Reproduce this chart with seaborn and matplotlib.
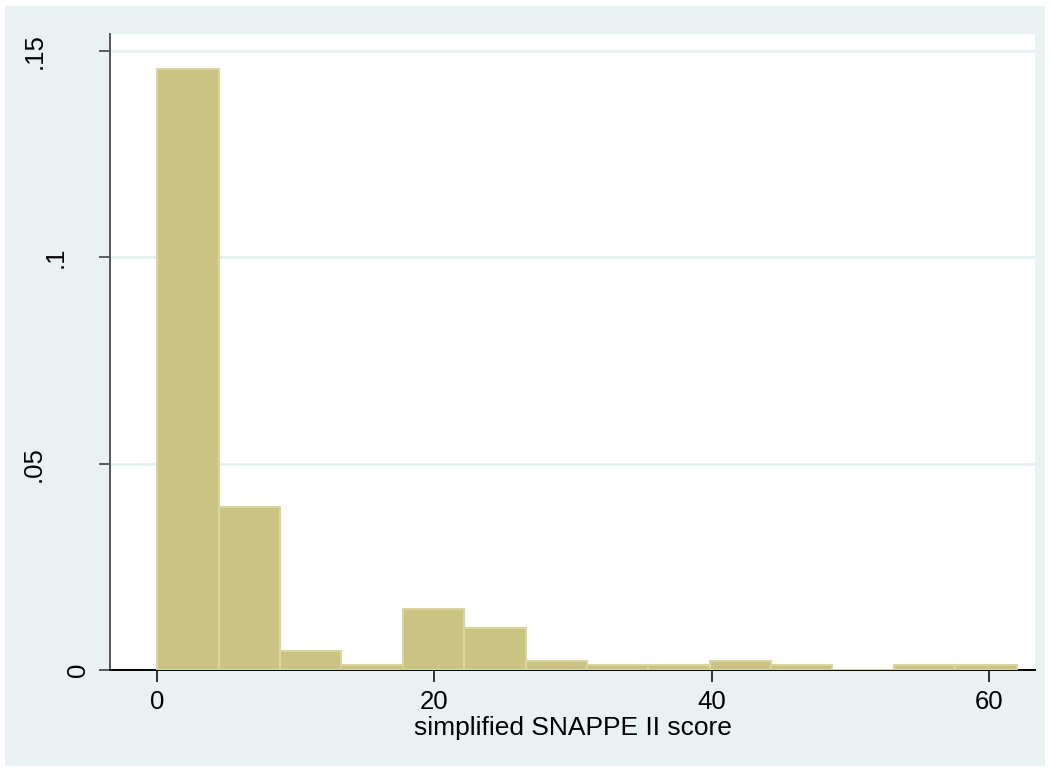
import numpy as np
import pandas as pd
import matplotlib
matplotlib.use("Agg")
import matplotlib.pyplot as plt
import seaborn as sns
from matplotlib.patches import Rectangle

# histogram of the simplified SNAPPE II score (14 equal bins, 0 to 62)
score_min = 0
score_max = 62
n_bins = 14
bin_counts = [129, 35, 4, 1, 13, 9, 2, 1, 1, 2, 1, 0, 1, 1]

x_ticks = [0, 20, 40, 60]
y_ticks = [0, 0.05, 0.1, 0.15]
y_tick_labels = ["0", ".05", ".1", ".15"]
x_label = "simplified SNAPPE II score"

BG = "#EAF1F3"
GRID = "#E5EEF0"
BAR = "#CAC381"
BAR_EDGE = "#DAD5A0"

sns.set_theme(style="white")
plt.rcParams["font.family"] = ["Liberation Sans", "DejaVu Sans"]
plt.rcParams["text.color"] = "black"
plt.rcParams["xtick.color"] = "black"
plt.rcParams["ytick.color"] = "black"

edges = np.linspace(score_min, score_max, n_bins + 1)
df = pd.DataFrame({
    "score": (edges[:-1] + edges[1:]) / 2,
    "n": bin_counts,
})

fig = plt.figure(figsize=(10.5, 7.72), dpi=100)
fig.patch.set_facecolor("white")
fig.add_artist(Rectangle((5 / 1050, 6 / 772), 1040 / 1050, 760 / 772,
                         transform=fig.transFigure, facecolor=BG,
                         edgecolor="none", zorder=0))

ax = fig.add_axes([110 / 1050, 102 / 772, 925 / 1050, 636 / 772])
ax.set_facecolor("white")

sns.histplot(data=df, x="score", weights="n", bins=n_bins,
             binrange=(score_min, score_max), stat="density",
             color=BAR, edgecolor=BAR_EDGE, linewidth=1.5, alpha=1,
             ax=ax, zorder=3)

ax.set_xlim(-3.41, 63.33)
ax.set_ylim(0, 0.1541)

# horizontal grid
for yv in y_ticks[1:]:
    ax.axhline(yv, color=GRID, lw=1.8, zorder=1)

ax.set_xticks(x_ticks)
ax.set_xticklabels([str(v) for v in x_ticks], fontsize=18.5, color="black")
ax.set_yticks(y_ticks)
ax.set_yticklabels([])
ax.tick_params(axis="x", bottom=True, direction="out", length=8.5,
               width=1.1, color="black", pad=6)
ax.tick_params(axis="y", left=True, direction="out", length=8,
               width=1.1, color="#333333", pad=0)

# Stata-style rotated y labels (staggered by label width)
label_x = {"0": -0.0346, ".05": -0.0822, ".1": -0.0584, ".15": -0.081}
for yv, lab in zip(y_ticks, y_tick_labels):
    ax.text(label_x[lab], yv, lab, transform=ax.get_yaxis_transform(),
            rotation=90, ha="center", va="center", fontsize=18.5,
            color="black")

ax.set_xlabel(x_label, fontsize=19, labelpad=1, color="black")
ax.set_ylabel("")

for side in ["top", "right"]:
    ax.spines[side].set_visible(False)
ax.spines["left"].set_color("#555555")
ax.spines["left"].set_linewidth(1.4)
ax.spines["bottom"].set_color("black")
ax.spines["bottom"].set_linewidth(1.4)

fig.savefig("out.png", dpi=100, facecolor=fig.get_facecolor())
